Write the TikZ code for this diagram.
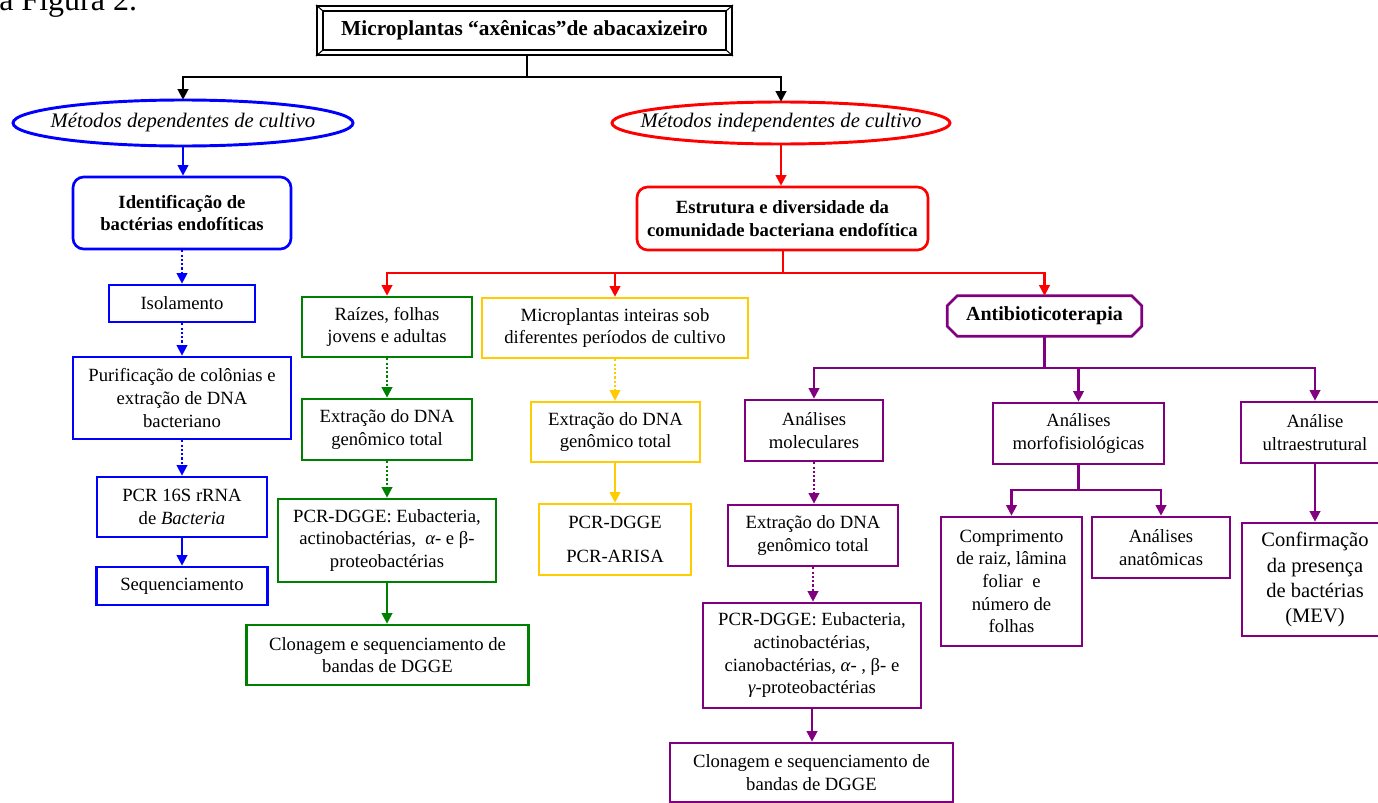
\documentclass[tikz,border=0pt]{standalone}
\usepackage{fontspec}
\setmainfont{Liberation Serif}
\usetikzlibrary{arrows.meta}
\definecolor{cblue}{RGB}{0,0,255}
\definecolor{cred}{RGB}{255,0,0}
\definecolor{cgreen}{RGB}{0,128,0}
\definecolor{cyel}{RGB}{255,204,0}
\definecolor{cpur}{RGB}{128,0,128}
\begin{document}
\begin{tikzpicture}[x=0.75pt,y=-0.75pt,
  box/.style={draw, line width=2pt, align=center, inner sep=0pt, font=\fontsize{14}{17}\selectfont},
  sz/.style 2 args={minimum width=#1*0.75pt, minimum height=#2*0.75pt},
  boldtxt/.style={font=\bfseries\fontsize{14}{17}\selectfont},
  conn/.style={line width=1.6pt, -{Triangle[length=8pt,width=8pt]}},
  plain/.style={line width=1.6pt},
  dotl/.style={dash pattern=on 1.6pt off 1.6pt},
  ell/.style={line width=2.2pt}]
\useasboundingbox (0,0) rectangle (1378,803);

% page text fragment
\node[anchor=base west, inner sep=0pt, font=\fontsize{24}{28}\selectfont] (fig) at (-1,10) {a Figura 2.};

% top box
\node[draw, line width=1.6pt, sz={415}{49}, inner sep=0pt, font=\bfseries\fontsize{16}{19}\selectfont] (top) at (524.5,30.5) {Microplantas “axênicas”de abacaxizeiro};
\draw[line width=1.1pt] ([shift={(7,6)}]top.north west) rectangle ([shift={(-7,-6)}]top.south east);
\draw[line width=0.8pt] (top.north west) -- ++(7,6) (top.north east) -- ++(-7,6)
  (top.south west) -- ++(7,-6) (top.south east) -- ++(-7,-6);

% ellipses
\node[sz={340}{46}, inner sep=0pt, font=\itshape\fontsize{15.5}{18}\selectfont] (ellB) at (183,123) {Métodos dependentes de cultivo};
\draw[ell, cblue] (ellB.center) ellipse [x radius=170, y radius=23];
\node[sz={338}{42}, inner sep=0pt, font=\itshape\fontsize{15.5}{18}\selectfont] (ellR) at (781,123) {Métodos independentes de cultivo};
\draw[ell, cred] (ellR.center) ellipse [x radius=169, y radius=21];

\coordinate (tj) at (527,77);
\draw[plain] (tj |- top.south) -- (tj);
\draw[conn] (tj) -| (ellB.north);
\draw[conn] (tj) -| (ellR.north);

% blue column
\node[box, draw=cblue, rounded corners=8pt, sz={218}{72}, boldtxt] (ident) at (182,213) {Identificação de\\bactérias endofíticas};
\node[box, draw=cblue, sz={146}{37}] (iso) at (182,303.5) {Isolamento};
\node[box, draw=cblue, sz={218}{82}] (puri) at (182,398) {Purificação de colônias e\\extração de DNA\\bacteriano};
\node[box, draw=cblue, sz={170}{60}] (pcr16) at (182,507) {PCR 16S rRNA\\de \textit{Bacteria}};
\node[box, draw=cblue, sz={171}{38}] (seq) at (182,586) {Sequenciamento};
\draw[conn, cblue] (ellB.south) -- (ellB.south |- ident.north);
\draw[conn, cblue, dotl] (ident.south) -- (iso.north);
\draw[conn, cblue, dotl] (iso.south) -- (puri.north);
\draw[conn, cblue, dotl] (puri.south) -- (pcr16.north);
\draw[conn, cblue] (pcr16.south) -- (seq.north);

% red
\node[box, draw=cred, rounded corners=8pt, sz={291}{63}, boldtxt] (estr) at (782.5,218.5) {Estrutura e diversidade da\\comunidade bacteriana endofítica};
\draw[conn, cred] (ellR.south) -- (ellR.south |- estr.north);
\coordinate (rj) at (783,273);

% green column
\node[box, draw=cgreen, sz={170}{60}] (rai) at (387,327) {Raízes, folhas\\jovens e adultas};
\node[box, draw=cgreen, sz={170}{61}] (gext) at (387,429.5) {Extração do DNA\\genômico total};
\node[box, draw=cgreen, sz={218}{83}] (gpcr) at (387,540.5) {PCR-DGGE: Eubacteria,\\actinobactérias,\ \ {\itshape α}- e β-\\proteobactérias};
\node[box, draw=cgreen, sz={282}{60}] (gclo) at (387.5,655) {Clonagem e sequenciamento de\\bandas de DGGE};
\draw[conn, cgreen, dotl] (rai.south) -- (gext.north);
\draw[conn, cgreen, dotl] (gext.south) -- (gpcr.north);
\draw[conn, cgreen] (gpcr.south) -- (gpcr.south |- gclo.north);

% yellow column
\node[box, draw=cyel, sz={266}{60}] (ymic) at (615,328) {Microplantas inteiras sob\\diferentes períodos de cultivo};
\node[box, draw=cyel, sz={169}{60}] (yext) at (615.5,432) {Extração do DNA\\genômico total};
\node[box, draw=cyel, sz={152}{71}] (ypcr) at (615,539.5) {PCR-DGGE\\[8pt]PCR-ARISA};
\draw[conn, cyel, dotl] (ymic.south) -- (ymic.south |- yext.north);
\draw[conn, cyel] (ymic.south |- yext.south) -- (ymic.south |- ypcr.north);

% purple
\node[sz={194}{40}, inner sep=0pt, font=\bfseries\fontsize{15}{18}\selectfont] (anti) at (1044.5,316) {Antibioticoterapia};
\draw[cpur, line width=2pt] ([shift={(10,0)}]anti.north west) -- ([shift={(-10,0)}]anti.north east)
  -- ([shift={(0,10)}]anti.north east) -- ([shift={(0,-10)}]anti.south east)
  -- ([shift={(-10,0)}]anti.south east) -- ([shift={(10,0)}]anti.south west)
  -- ([shift={(0,-10)}]anti.south west) -- ([shift={(0,10)}]anti.north west) -- cycle;

\draw[plain, cred] (rj |- estr.south) -- (rj);
\draw[conn, cred] (rj) -| (rai.north);
\draw[conn, cred] (rj) -| (ymic.north);
\draw[conn, cred] (rj) -| (anti.north);

\node[box, draw=cpur, sz={138}{61}] (pmol) at (814,430.5) {Análises\\moleculares};
\node[box, draw=cpur, sz={171}{61}] (pmor) at (1078.5,433.5) {Análises\\morfofisiológicas};
\node[box, draw=cpur, sz={148}{61}] (pult) at (1315,432.5) {Análise\\ultraestrutural};
\node[box, draw=cpur, sz={170}{61}] (pext) at (813,535.5) {Extração do DNA\\genômico total};
\node[box, draw=cpur, sz={218}{105}] (ppcr) at (812,655.5) {PCR-DGGE: Eubacteria,\\actinobactérias,\\cianobactérias, {\itshape α}- , β- e\\{\itshape γ}-proteobactérias};
\node[box, draw=cpur, sz={283}{59}] (pclo) at (811.5,772.5) {Clonagem e sequenciamento de\\bandas de DGGE};
\node[box, draw=cpur, sz={141}{129}] (pcomp) at (1011.5,581.5) {Comprimento\\de raiz, lâmina\\foliar\ \ e\\número de\\folhas};
\node[box, draw=cpur, sz={138}{61}] (pana) at (1161,547.5) {Análises\\anatômicas};
\node[box, draw=cpur, sz={146}{113}, font=\fontsize{15.4}{18.8}\selectfont] (pconf) at (1315,579.5) {Confirmação\\da presença\\de bactérias\\(MEV)};

\coordinate (pj) at (1044.5,368);
\draw[plain, cpur] (anti.south) -- (pj);
\draw[conn, cpur] (pj) -| (pmol.north);
\draw[conn, cpur] (pj) -| (pmor.north);
\draw[conn, cpur] (pj) -| (pult.north);
\coordinate (mj) at (1078.5,490);
\draw[plain, cpur] (pmor.south) -- (mj);
\draw[conn, cpur] (mj) -| (pcomp.north);
\draw[conn, cpur] (mj) -| (pana.north);
\draw[conn, cpur] (pult.south) -- (pconf.north);
\draw[conn, cpur, dotl] (pmol.south) -- (pmol.south |- pext.north);
\draw[conn, cpur, dotl] (pext.south) -- (pext.south |- ppcr.north);
\draw[conn, cpur] (ppcr.south) -- (ppcr.south |- pclo.north);
\end{tikzpicture}
\end{document}
